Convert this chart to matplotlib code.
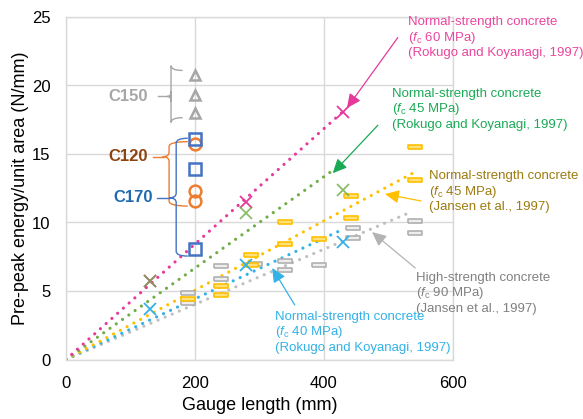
import matplotlib
matplotlib.use("Agg")
import matplotlib.pyplot as plt
from matplotlib.path import Path
from matplotlib.patches import PathPatch

plt.rcParams['font.family'] = ['Liberation Sans', 'DejaVu Sans']
plt.rcParams['mathtext.fontset'] = 'custom'
plt.rcParams['mathtext.rm'] = 'Liberation Sans'
plt.rcParams['mathtext.it'] = 'Liberation Sans:italic'

# ---------------- data ----------------
# UHPFRC specimens at 200 mm gauge length
gauge_uhp = 200
c150_vals = [20.8, 19.3, 18.0]
c120_vals = [15.7, 12.3, 11.6]
c170_vals = [16.1, 13.9, 8.1]

# Rokugo and Koyanagi (1997)
rokugo_gauge = [130, 280, 430]
rokugo_fc60 = [5.7, 11.5, 18.1]
rokugo_fc45 = [5.7, 10.7, 12.4]
rokugo_fc40 = [3.7, 6.9, 8.6]

# Jansen et al. (1997)
jansen45_gauge = [190, 240, 240, 287, 287, 340, 340, 393, 442, 442, 542, 542]
jansen45_vals = [4.45, 5.4, 4.7, 7.65, 6.9, 10.0, 8.4, 8.8, 11.9, 10.3, 15.5, 13.1]
jansen90_gauge = [190, 190, 240, 240, 293, 340, 340, 393, 445, 445, 542, 542]
jansen90_vals = [4.85, 4.1, 6.8, 5.9, 7.0, 7.2, 6.5, 6.9, 9.6, 8.9, 10.1, 9.2]

# trend lines through origin: end points (gauge, value)
trend_fc60 = (430, 18.1)
trend_fc45r = (420, 14.0)
trend_fc40 = (425, 9.4)
trend_j45 = (542, 13.7)
trend_j90 = (537, 10.8)

# ---------------- style ----------------
PINK = '#E6399B'
PINK_TXT = '#E8469E'
GREEN = '#70AD47'
GREEN_TXT = '#1AAA55'
BLUE_L = '#33B2E8'
YELLOW = '#FFC000'
YELLOW_TXT = '#9C7B10'
GRAY = '#BFBFBF'
GRAY_TXT = '#808080'
TRI = '#A6A6A6'
SQ = '#4472C4'
ORG = '#ED7D31'
GRID = '#D9D9D9'

fig = plt.figure(figsize=(5.83, 4.19), dpi=100)
ax = fig.add_axes([66/583, 59.5/419, 386.6/583, 342.5/419])
ax.set_xlim(0, 600)
ax.set_ylim(0, 25)
ax.set_xticks([0, 200, 400, 600])
ax.set_yticks([0, 5, 10, 15, 20, 25])
ax.grid(True, color=GRID, linewidth=1.0)
ax.set_axisbelow(True)
for s in ax.spines.values():
    s.set_color(GRID)
    s.set_linewidth(1.0)
ax.tick_params(length=0, labelsize=12, colors='#000000')
ax.tick_params(axis='y', pad=11)
ax.tick_params(axis='x', pad=12)
ax.set_xlabel('Gauge length (mm)', fontsize=13, labelpad=4)
ax.set_ylabel('Pre-peak energy/unit area (N/mm)', fontsize=13, labelpad=2)

# trend lines (dotted)
def trend(end, color):
    ax.plot([0, end[0]], [0, end[1]], color=color, linewidth=2.3,
            linestyle=(0, (0.01, 2.4)), dash_capstyle='round', zorder=2)

trend(trend_j90, GRAY)
trend(trend_fc40, BLUE_L)
trend(trend_j45, YELLOW)
trend(trend_fc45r, GREEN)
trend(trend_fc60, PINK)

# Jansen dashes (rectangle marker)
rect = [(-1, -0.28), (1, -0.28), (1, 0.28), (-1, 0.28), (-1, -0.28)]
ax.plot(jansen90_gauge, jansen90_vals, linestyle='none', marker=rect,
        markersize=9.5, markerfacecolor='#EDEDED', markeredgecolor='#B0B0B0',
        markeredgewidth=1.2, zorder=3)
ax.plot(jansen45_gauge, jansen45_vals, linestyle='none', marker=rect,
        markersize=9.5, markerfacecolor='#FFE07A', markeredgecolor=YELLOW,
        markeredgewidth=1.2, zorder=3)

# Rokugo crosses
ax.plot(rokugo_gauge, rokugo_fc40, linestyle='none', marker='x', markersize=8.5,
        markeredgewidth=1.3, color=BLUE_L, zorder=4)
ax.plot(rokugo_gauge, rokugo_fc60, linestyle='none', marker='x', markersize=8.5,
        markeredgewidth=1.3, color=PINK, zorder=4)
ax.plot(rokugo_gauge, rokugo_fc45, linestyle='none', marker='x', markersize=8.5,
        markeredgewidth=1.3, color=GREEN, alpha=0.8, zorder=4)

# UHPFRC markers
ax.plot([gauge_uhp]*3, c150_vals, linestyle='none', marker='^', markersize=7.5,
        markerfacecolor='none', markeredgecolor=TRI, markeredgewidth=1.8, zorder=5)
ax.plot([gauge_uhp]*3, c120_vals, linestyle='none', marker='o', markersize=8.5,
        markerfacecolor='none', markeredgecolor=ORG, markeredgewidth=1.8, zorder=5)
ax.plot([gauge_uhp]*3, c170_vals, linestyle='none', marker='s', markersize=8.5,
        markerfacecolor='none', markeredgecolor=SQ, markeredgewidth=1.8, zorder=6)

# braces
def brace(x_end, x_mid, x_tip, x_lead, y_top, y_bot, y_c, color, ry=0.35):
    verts = [(x_end, y_top), (x_mid, y_top), (x_mid, y_top - ry),
             (x_mid, y_c + ry),
             (x_mid, y_c), (x_tip, y_c),
             (x_mid, y_c), (x_mid, y_c - ry),
             (x_mid, y_bot + ry),
             (x_mid, y_bot), (x_end, y_bot)]
    codes = [Path.MOVETO, Path.CURVE3, Path.CURVE3, Path.LINETO,
             Path.CURVE3, Path.CURVE3, Path.CURVE3, Path.CURVE3,
             Path.LINETO, Path.CURVE3, Path.CURVE3]
    ax.add_patch(PathPatch(Path(verts, codes), facecolor='none', edgecolor=color,
                           linewidth=1.0, clip_on=False, zorder=3))
    ax.plot([x_lead, x_tip], [y_c, y_c], color=color, linewidth=1.0,
            clip_on=False, zorder=3)

brace(181, 163, 157, 143, min(c150_vals) - 0.35, max(c150_vals) + 0.3, 19.2, TRI)
brace(189, 160, 150, 135, max(c120_vals) + 0.2, min(c120_vals) - 0.4, 14.8, ORG)
brace(189, 171, 160, 141, max(c170_vals) + 0.05, min(c170_vals) - 0.55, 11.8, SQ)

ax.text(127, 19.2, 'C150', color=TRI, fontsize=12, fontweight='bold',
        ha='right', va='center')
ax.text(127, 14.8, 'C120', color='#8B430F', fontsize=12, fontweight='bold',
        ha='right', va='center')
ax.text(135, 11.8, 'C170', color='#1F6AB0', fontsize=12, fontweight='bold',
        ha='right', va='center')

# annotations
def note(tx, ty, lines, color, acolor, ax0, ay0, ax1, ay1):
    ax.text(tx, ty, '\n'.join(lines), color=color, fontsize=9.5, ha='left',
            va='center', linespacing=1.15, clip_on=False, zorder=7)
    ax.annotate('', xy=(ax1, ay1), xytext=(ax0, ay0),
                arrowprops=dict(arrowstyle='-|>,head_length=0.85,head_width=0.4',
                                color=acolor, linewidth=0.9, shrinkA=0, shrinkB=0),
                annotation_clip=False, zorder=7)

note(531, 23.47, ['Normal-strength concrete', r'($\mathit{f}_{\mathrm{c}}$ 60 MPa)',
                  '(Rokugo and Koyanagi, 1997)'], PINK_TXT, PINK, 515, 23.5, 436, 18.35)
note(506, 18.28, ['Normal-strength concrete', r'($\mathit{f}_{\mathrm{c}}$ 45 MPa)',
                  '(Rokugo and Koyanagi, 1997)'], GREEN_TXT, GREEN_TXT, 484, 17.1, 414, 13.6)
note(563, 12.23, ['Normal-strength concrete', r'($\mathit{f}_{\mathrm{c}}$ 45 MPa)',
                  '(Jansen et al., 1997)'], YELLOW_TXT, YELLOW, 551, 11.57, 495, 12.08)
note(543, 4.85, ['High-strength concrete', r'($\mathit{f}_{\mathrm{c}}$ 90 MPa)',
                 '(Jansen et al., 1997)'], GRAY_TXT, '#B3B3B3', 542, 6.68, 475, 9.3)
note(324, 2.0, ['Normal-strength concrete', r'($\mathit{f}_{\mathrm{c}}$ 40 MPa)',
                '(Rokugo and Koyanagi, 1997)'], BLUE_L, BLUE_L, 355, 3.98, 320, 6.68)

fig.savefig('out.png', dpi=100)
